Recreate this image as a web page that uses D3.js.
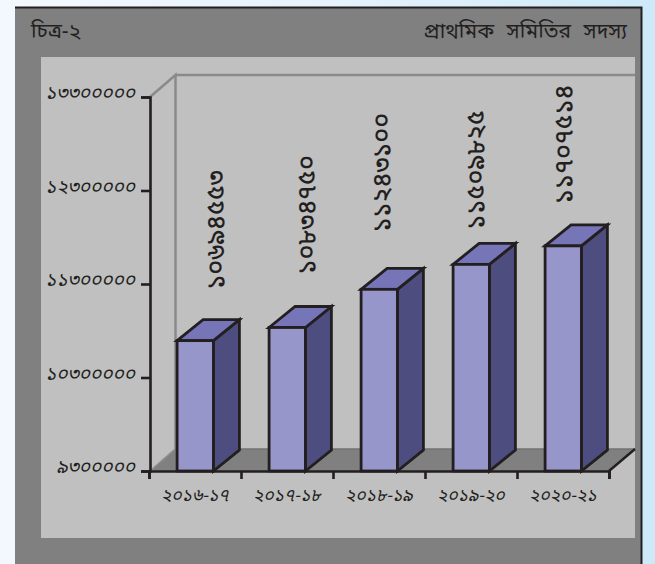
<!DOCTYPE html>
<html><head><meta charset="utf-8">
<script src="https://cdnjs.cloudflare.com/ajax/libs/d3/7.8.5/d3.min.js"></script>
<style>html,body{margin:0;padding:0;overflow:hidden}svg{display:block}
text{font-family:"Noto Sans Bengali","Noto Serif Bengali","Lohit Bengali","Noto Sans","DejaVu Sans",sans-serif;fill:#231f20}</style>
</head><body><svg id="c" width="655" height="564"></svg>
<script>
const categories=["২০১৬-১৭","২০১৭-১৮","২০১৮-১৯","২০১৯-২০","২০২০-২১"];
const memberValues=[10694553,10834750,11243100,11509825,11707514];
const memberLabels=["১০৬৯৪৫৫৩","১০৮৩৪৭৫০","১১২৪৩১০০","১১৫০৯৮২৫","১১৭০৭৫১৪"];
const yTicks=[9300000,10300000,11300000,12300000,13300000];
const yTickLabels=["৯৩০০০০০","১০৩০০০০০","১১৩০০০০০","১২৩০০০০০","১৩৩০০০০০"];
const titleLeft="চিত্র-২", titleRight="প্রাথমিক সমিতির সদস্য";
// label placement relative to each bar (layout only)
const labelDx=[22,21,4,6,2], labelGap=[30,32,36,14,21];

const svg=d3.select("#c");
const defs=svg.append("defs");
const g=defs.append("linearGradient").attr("id","bg");
g.append("stop").attr("offset","0").attr("stop-color","#f3f8fe");
g.append("stop").attr("offset","0.5").attr("stop-color","#e6f3fc");
g.append("stop").attr("offset","1").attr("stop-color","#cde9f9");
svg.append("rect").attr("width",655).attr("height",564).attr("fill","url(#bg)");
svg.append("rect").attr("x",15).attr("y",7).attr("width",627).attr("height",557).attr("fill","#808080");
svg.append("path").attr("d","M15,7.5H641.5V564").attr("fill","none").attr("stroke","#231f20").attr("stroke-width",2);
svg.append("rect").attr("x",41).attr("y",57).attr("width",594).attr("height",481).attr("fill","#c0c0c0");

svg.append("text").attr("x",31).attr("y",38).attr("font-size",21).text(titleLeft);
svg.append("text").attr("x",627).attr("y",38).attr("text-anchor","end").attr("font-size",21).attr("word-spacing",7).text(titleRight);

const x0=150,x1=609,dx=26,dy=-22,barDy=-21;
const y=d3.scaleLinear().domain([9300000,13300000]).range([471,97]);
const x=d3.scaleBand().domain(categories).range([x0-1,x1]).paddingInner(0.6).paddingOuter(0.3);
const line=d3.line();

// back wall and floor
svg.append("path").attr("d",line([[x0,471],[x0+dx-1,471+dy],[635,471+dy],[x1,471]])+"Z").attr("fill","#808080");
svg.append("path").attr("d",line([[x0+dx-1,471+dy],[635,471+dy]])).attr("stroke","#737373").attr("stroke-width",1.5);
svg.append("path").attr("d",line([[x0,471],[x0+dx-1,471+dy]])).attr("stroke","#8f8f8f").attr("stroke-width",1.5);
svg.append("path").attr("d",line([[x1,471],[635,471+dy]])).attr("stroke","#231f20").attr("stroke-width",2.4);
svg.append("path").attr("d",line([[x0,97],[x0+dx-0.5,97+dy],[x0+dx-0.5,471+dy]])).attr("fill","none").attr("stroke","#8a8a8a").attr("stroke-width",2.5);
svg.append("path").attr("d",line([[x0+dx-0.5,97+dy],[635,97+dy]])).attr("stroke","#8a8a8a").attr("stroke-width",2.5);

// bars
const bars=svg.selectAll(".bar").data(memberValues).join("g").attr("class","bar");
const bx=(d,i)=>x(categories[i])+0.5, bw=x.bandwidth()-0.5;
const st=s=>s.attr("stroke","#231f20").attr("stroke-width",2.8).attr("stroke-linejoin","miter");
bars.append("path").attr("d",(d,i)=>line([[bx(d,i)+bw,y(d)],[bx(d,i)+bw+dx,y(d)+barDy],[bx(d,i)+bw+dx,471+barDy],[bx(d,i)+bw,471]])+"Z").attr("fill","#4d4d80").call(st);
bars.append("path").attr("d",(d,i)=>line([[bx(d,i),y(d)],[bx(d,i)+dx,y(d)+barDy],[bx(d,i)+bw+dx,y(d)+barDy],[bx(d,i)+bw,y(d)]])+"Z").attr("fill","#7575b8").call(st);
bars.append("rect").attr("x",(d,i)=>bx(d,i)).attr("y",d=>y(d)).attr("width",bw).attr("height",d=>471-y(d)).attr("fill","#9696cb").call(st);

// value labels
bars.append("text").attr("font-size",25).attr("font-weight",500).attr("text-anchor","start").attr("dominant-baseline","central")
 .attr("transform",(d,i)=>`translate(${bx(d,i)+bw/2+labelDx[i]},${y(d)+barDy-labelGap[i]}) rotate(-90)`)
 .text((d,i)=>memberLabels[i]);

// axes
const ya=svg.append("g").attr("transform",`translate(${x0},0)`)
 .call(d3.axisLeft(y).tickValues(yTicks).tickSize(9).tickPadding(6).tickFormat((d,i)=>yTickLabels[i]));
ya.selectAll("text").attr("font-size",19).attr("font-style","italic").attr("dy","0.1em");
const xa=svg.append("g").attr("transform","translate(0,471)")
 .call(d3.axisBottom(d3.scalePoint().domain(d3.range(6)).range([x0-1,x1])).tickSize(8).tickFormat(""));
svg.append("g").selectAll("text").data(categories).join("text").attr("font-size",17.5).attr("font-style","italic").attr("text-anchor","middle")
 .attr("x",d=>x(d)+bw/2).attr("y",501).text(d=>d);
svg.selectAll(".domain,.tick line").attr("stroke","#231f20").attr("stroke-width",2.6);
</script></body></html>
